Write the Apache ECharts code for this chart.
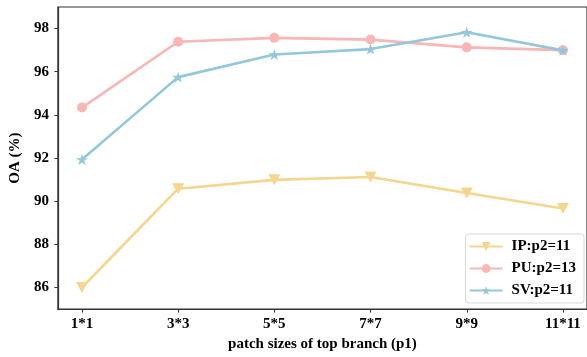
<!DOCTYPE html>
<html>
<head>
<meta charset="utf-8">
<script src="https://cdn.jsdelivr.net/npm/echarts@6/dist/echarts.min.js"></script>
<style>
html,body{margin:0;padding:0;background:#fff;}
#chart{width:587px;height:357px;}
</style>
</head>
<body>
<div id="chart"></div>
<script>
var categories = ['1*1', '3*3', '5*5', '7*7', '9*9', '11*11'];
var ipValues = [86.0, 90.58, 90.99, 91.12, 90.38, 89.66];
var puValues = [94.34, 97.39, 97.57, 97.49, 97.13, 97.0];
var svValues = [91.93, 95.75, 96.80, 97.05, 97.83, 96.99];
var yTicks = [86, 88, 90, 92, 94, 96, 98];
var seriesNames = ['IP:p2=11', 'PU:p2=13', 'SV:p2=11'];

var font = 'Liberation Serif, Times New Roman, serif';
var starPath = 'path://M0,-100 L22.45,-30.9 L95.1,-30.9 L36.3,11.8 L58.8,80.9 L0,38.2 L-58.8,80.9 L-36.3,11.8 L-95.1,-30.9 L-22.45,-30.9 Z';
var triDown = 'path://M-100,-100 L100,-100 L0,100 Z';

function pairs(vals){ return vals.map(function(v,i){ return [i, v]; }); }

var chart = echarts.init(document.getElementById('chart'), null, {renderer:'canvas'});
chart.setOption({
  animation: false,
  backgroundColor: '#fff',
  textStyle: {fontFamily: font},
  grid: {left: 53.5, top: 7, right: -3.5, bottom: 45, show: true, borderColor: '#333', borderWidth: 1.2, containLabel: false},
  xAxis: {
    type: 'value', min: -0.25, max: 5.25,
    name: 'patch sizes of top branch (p1)', nameLocation: 'middle', nameGap: 26,
    nameTextStyle: {fontFamily: font, fontWeight: 'bold', fontSize: 15, color: '#000'},
    axisLine: {show: true, onZero: false, lineStyle: {color: '#333', width: 1.2}},
    axisTick: {show: true, inside: false, length: 3.5, customValues: [0,1,2,3,4,5], lineStyle: {color: '#333', width: 1}},
    axisLabel: {customValues: [0,1,2,3,4,5], margin: 8, fontFamily: font, fontWeight: 'bold', fontSize: 15, color: '#000',
      formatter: function(v){ return categories[Math.round(v)]; }},
    splitLine: {show: false}
  },
  yAxis: {
    type: 'value', min: 85, max: 99,
    name: 'OA (%)', nameLocation: 'middle', nameGap: 34, nameRotate: 90,
    nameTextStyle: {fontFamily: font, fontWeight: 'bold', fontSize: 15, color: '#000'},
    axisLine: {show: true, onZero: false, lineStyle: {color: '#333', width: 1.2}},
    axisTick: {show: true, inside: false, length: 3.5, customValues: yTicks, lineStyle: {color: '#333', width: 1}},
    axisLabel: {customValues: yTicks, margin: 9, fontFamily: font, fontWeight: 'bold', fontSize: 15, color: '#000'},
    splitLine: {show: false}
  },
  legend: {
    orient: 'vertical', right: 3, bottom: 54,
    data: seriesNames,
    itemWidth: 33, itemHeight: 11, itemGap: 7,
    padding: [5, 8, 5, 3],
    borderColor: '#d8d8d8', borderWidth: 1, borderRadius: 3,
    backgroundColor: '#fff',
    textStyle: {fontFamily: font, fontWeight: 'bold', fontSize: 15, color: '#000', padding: [0,0,0,4]}
  },
  series: [
    {name: seriesNames[0], type: 'line', data: pairs(ipValues), symbol: triDown, symbolSize: [12, 11],
     lineStyle: {color: '#F6D58F', width: 2.6}, itemStyle: {color: '#F6D58F'}, z: 2},
    {name: seriesNames[1], type: 'line', data: pairs(puValues), symbol: 'circle', symbolSize: 10,
     lineStyle: {color: '#F8B6B5', width: 2.6}, itemStyle: {color: '#F8B6B5'}, z: 3},
    {name: seriesNames[2], type: 'line', data: pairs(svValues), symbol: starPath, symbolSize: [12, 11],
     lineStyle: {color: '#93C7DB', width: 2.6}, itemStyle: {color: '#93C7DB'}, z: 4}
  ]
});
</script>
</body>
</html>
